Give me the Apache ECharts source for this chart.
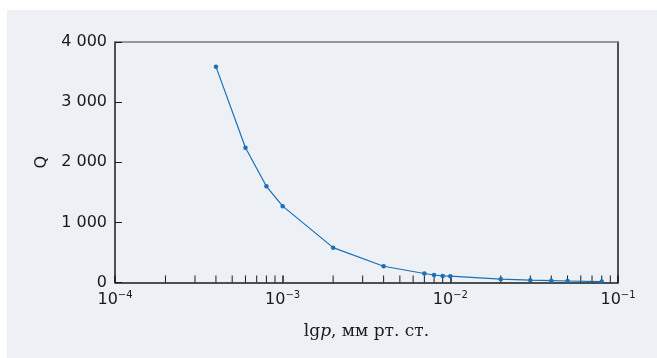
<!DOCTYPE html>
<html>
<head>
<meta charset="utf-8">
<script src="https://cdn.jsdelivr.net/npm/echarts@6/dist/echarts.min.js"></script>
<style>
  html, body { margin: 0; padding: 0; background: #fff; }
  #chart { width: 657px; height: 358px; }
</style>
</head>
<body>
<div id="chart"></div>
<script>
// pressure, mm Hg (log scale) and Q
var pressure = [0.0004, 0.0006, 0.0008, 0.001, 0.002, 0.004, 0.007, 0.008, 0.009, 0.01, 0.02, 0.03, 0.04, 0.05, 0.08];
var qValues = [3590, 2240, 1600, 1270, 580, 270, 150, 125, 110, 105, 55, 38, 30, 25, 15];
var minorTicks = [
  0.0002, 0.0003, 0.0004, 0.0005, 0.0006, 0.0007, 0.0008, 0.0009,
  0.002, 0.003, 0.004, 0.005, 0.006, 0.007, 0.008, 0.009,
  0.02, 0.03, 0.04, 0.05, 0.06, 0.07, 0.08, 0.09
];

var chart = echarts.init(document.getElementById('chart'));
var ink = '#1a1a1a';
var sans = 'DejaVu Sans';

chart.setOption({
  animation: false,
  graphic: [{
    type: 'rect',
    z: -10,
    shape: { x: 7, y: 10, width: 657, height: 358 },
    style: { fill: '#edf1f5' }
  }],
  grid: { left: 115, right: 39, top: 42, bottom: 75.5 },
  xAxis: [{
    type: 'log',
    logBase: 10,
    min: 0.0001,
    max: 0.1,
    name: '{a|lg}{i|p}{a|, мм рт. ст.}',
    nameLocation: 'middle',
    nameGap: 41,
    nameTextStyle: {
      rich: {
        a: { fontFamily: 'DejaVu Serif', fontSize: 17, color: ink },
        i: { fontFamily: 'DejaVu Serif', fontStyle: 'italic', fontSize: 17, color: ink }
      }
    },
    axisLine: { onZero: false, lineStyle: { color: ink, width: 1.5 } },
    axisTick: { inside: true, length: 7, lineStyle: { color: ink, width: 1.5 } },
    splitLine: { show: false },
    axisLabel: {
      margin: 8,
      formatter: function (v) {
        var e = Math.round(Math.log(v) / Math.LN10);
        return '{b|10}{s|\u2212' + Math.abs(e) + '}';
      },
      rich: {
        b: { fontFamily: sans, fontSize: 16, color: ink },
        s: { fontFamily: sans, fontSize: 10, color: ink, padding: [0, 0, 8, 0] }
      }
    }
  }, {
    type: 'value',
    min: 0,
    max: 1,
    position: 'top',
    axisLine: { show: true, onZero: false, lineStyle: { color: '#777', width: 1.5 } },
    axisTick: { show: false },
    axisLabel: { show: false },
    splitLine: { show: false }
  }],
  yAxis: [{
    type: 'value',
    min: 0,
    max: 4000,
    interval: 1000,
    name: 'Q',
    nameLocation: 'middle',
    nameGap: 62,
    nameTextStyle: { fontFamily: sans, fontSize: 16, color: ink },
    axisLine: { show: true, onZero: false, lineStyle: { color: ink, width: 1.5 } },
    axisTick: { show: true, inside: true, length: 7, lineStyle: { color: ink } },
    splitLine: { show: false },
    axisLabel: {
      margin: 8,
      fontFamily: sans,
      fontSize: 16,
      color: ink,
      formatter: function (v) {
        return String(v).replace(/\B(?=(\d{3})+(?!\d))/g, ' ');
      }
    }
  }, {
    type: 'value',
    min: 0,
    max: 4000,
    position: 'right',
    axisLine: { show: true, onZero: false, lineStyle: { color: ink, width: 1.5 } },
    axisTick: { show: false },
    axisLabel: { show: false },
    splitLine: { show: false }
  }],
  series: [{
    type: 'line',
    data: pressure.map(function (p, i) { return [p, qValues[i]]; }),
    symbol: 'circle',
    symbolSize: 4.5,
    lineStyle: { color: '#1a6fb6', width: 1.2 },
    itemStyle: { color: '#1a6fb6' },
    z: 5
  }, {
    type: 'custom',
    clip: false,
    silent: true,
    data: minorTicks.map(function (v) { return [v, 0]; }),
    renderItem: function (params, api) {
      var p = api.coord([api.value(0), 0]);
      return {
        type: 'line',
        shape: { x1: p[0], y1: p[1], x2: p[0], y2: p[1] - 7 },
        style: { stroke: ink, lineWidth: 1 }
      };
    },
    z: 3
  }]
});
</script>
</body>
</html>
